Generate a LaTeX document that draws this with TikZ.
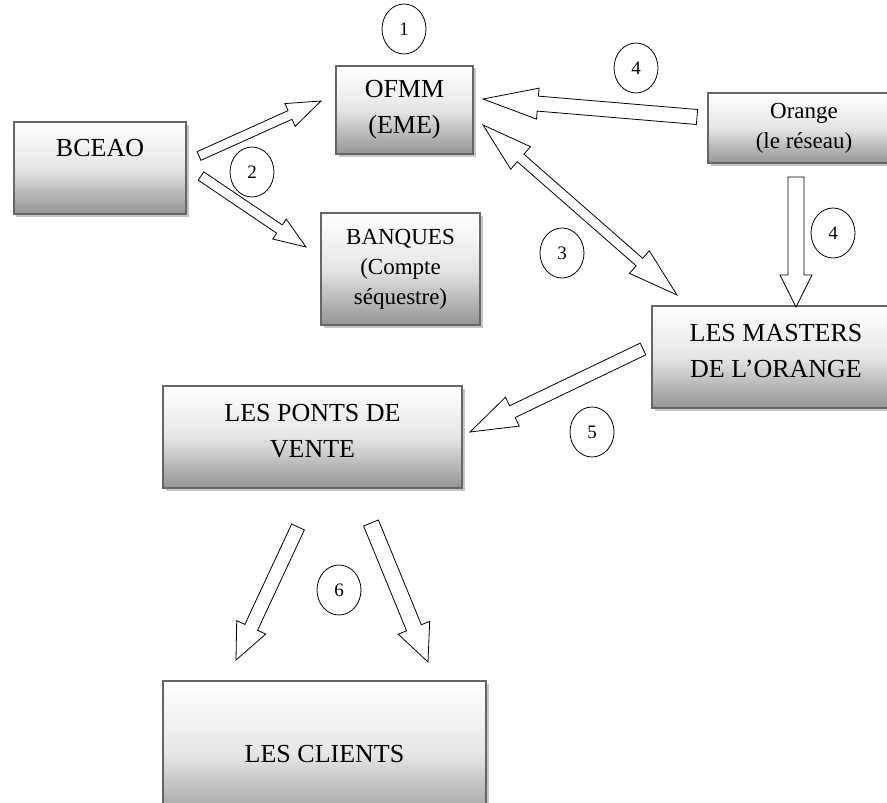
\documentclass[tikz,border=0pt]{standalone}
\usepackage{fontspec}
\setmainfont{Liberation Serif}
\usetikzlibrary{calc,shadows,shapes.geometric}

\tikzset{
    box/.style={shape=rectangle, draw=black!60, line width=1.2bp, top color=white, bottom color=black!42, middle color=black!10,
        drop shadow={shadow xshift=2.5bp, shadow yshift=-2.5bp, fill=black!45, opacity=.5},
        align=center, inner sep=0pt, font=\fontsize{26bp}{36bp}\selectfont},
    smallbox/.style={box, font=\fontsize{23bp}{30bp}\selectfont},
    num/.style={shape=ellipse, draw=black, line width=0.8bp, minimum width=44bp, minimum height=50bp, inner sep=0pt,
        font=\fontsize{19bp}{19bp}\selectfont},
    % #1 half shaft, #2 half head, #3 head length
    bigarrow/.style n args={3}{draw=black, fill=white, line width=0.8bp, line join=miter, to path={
        ($(\tikztotarget)!#3!(\tikztostart)$) coordinate (hb)
        ($(\tikztostart)!#1!90:(\tikztotarget)$) -- ($(hb)!#1!90:(\tikztotarget)$) -- ($(hb)!#2!90:(\tikztotarget)$)
        -- (\tikztotarget) -- ($(hb)!#2!-90:(\tikztotarget)$) -- ($(hb)!#1!-90:(\tikztotarget)$)
        -- ($(\tikztostart)!#1!-90:(\tikztotarget)$) -- cycle}},
    dblarrow/.style n args={3}{draw=black, fill=white, line width=0.8bp, line join=miter, to path={
        ($(\tikztostart)!#3!(\tikztotarget)$) coordinate (ha)
        ($(\tikztotarget)!#3!(\tikztostart)$) coordinate (hb)
        (\tikztostart) -- ($(ha)!#2!90:(\tikztotarget)$) -- ($(ha)!#1!90:(\tikztotarget)$) -- ($(hb)!#1!90:(\tikztotarget)$)
        -- ($(hb)!#2!90:(\tikztotarget)$) -- (\tikztotarget) -- ($(hb)!#2!-90:(\tikztotarget)$) -- ($(hb)!#1!-90:(\tikztotarget)$)
        -- ($(ha)!#1!-90:(\tikztotarget)$) -- ($(ha)!#2!-90:(\tikztotarget)$) -- cycle}}
}

\begin{document}
\begin{tikzpicture}[x=1bp,y=-1bp]
    \useasboundingbox (0,0) rectangle (887,803);

    \node[box, minimum width=172bp, minimum height=92bp, text depth=40bp] (BCEAO) at (100,168) {BCEAO};
    \node[box, minimum width=137bp, minimum height=88bp] (OFMM) at (404.5,110) {OFMM\\(EME)};
    \node[smallbox, minimum width=159bp, minimum height=112bp] (Banques) at (400.5,269) {BANQUES\\(Compte\\séquestre)};
    \node[smallbox, minimum width=192bp, minimum height=70bp] (Orange) at (804,128) {Orange\\(le réseau)};
    \node[box, minimum width=248bp, minimum height=102bp, text depth=12bp] (Masters) at (776,357) {LES MASTERS\\DE L’ORANGE};
    \node[box, minimum width=299bp, minimum height=102bp, text depth=12bp] (Ponts) at (312.5,437) {LES PONTS DE\\VENTE};
    \node[box, minimum width=323bp, minimum height=146bp] (Clients) at (324.5,754) {LES CLIENTS};

    \coordinate (BCEAO o1) at (199,156);
    \coordinate (OFMM i1) at (321,101);
    \coordinate (BCEAO o2) at (201,176);
    \coordinate (Banques i) at (306,247);
    \coordinate (Orange o1) at (697,117);
    \coordinate (OFMM i2) at (483,99);
    \coordinate (OFMM io) at (483,125);
    \coordinate (Masters io) at (677,295);
    \coordinate (Orange o2) at (796,177);
    \coordinate (Masters i) at (796,307);
    \coordinate (Masters o) at (643,349);
    \coordinate (Ponts i) at (470,432);
    \coordinate (Ponts o1) at (298,527);
    \coordinate (Clients i1) at (236,660);
    \coordinate (Ponts o2) at (371,523);
    \coordinate (Clients i2) at (428,662);

    \path (BCEAO o1) edge[bigarrow={4.75bp}{12.5bp}{34bp}] (OFMM i1);
    \path (BCEAO o2) edge[bigarrow={5bp}{12bp}{32bp}] (Banques i);
    \path (Orange o1) edge[bigarrow={7.5bp}{15.5bp}{55bp}] (OFMM i2);
    \path (OFMM io) edge[dblarrow={5bp}{15bp}{50bp}] (Masters io);
    \path (Orange o2) edge[bigarrow={8bp}{16bp}{32bp}] (Masters i);
    \path (Masters o) edge[bigarrow={6.5bp}{16bp}{47bp}] (Ponts i);
    \path (Ponts o1) edge[bigarrow={7bp}{16bp}{36bp}] (Clients i1);
    \path (Ponts o2) edge[bigarrow={8bp}{17bp}{37bp}] (Clients i2);

    \node[num] (n1) at (404,29) {1};
    \node[num] (n2) at (252,172) {2};
    \node[num] (n3) at (562,253) {3};
    \node[num] (n4a) at (636,68) {4};
    \node[num] (n4b) at (833,233) {4};
    \node[num] (n5) at (592,432) {5};
    \node[num] (n6) at (339,590) {6};
\end{tikzpicture}
\end{document}
